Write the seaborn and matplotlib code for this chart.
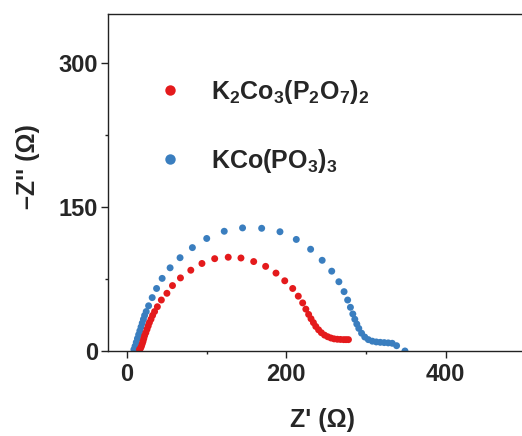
import matplotlib
matplotlib.use("Agg")
import matplotlib.pyplot as plt
import seaborn as sns
import pandas as pd
from matplotlib.ticker import MultipleLocator

# --- data ---
red_label = r"K$_2$Co$_3$(P$_2$O$_7$)$_2$"
blue_label = r"KCo(PO$_3$)$_3$"

red_x = [15.5, 17, 18, 19, 20, 21, 22, 23.5, 25, 26.5, 28, 30, 32, 34.5, 38, 43, 50, 57, 67, 80,
         94, 110, 127, 143, 159, 174, 187, 198, 208, 215, 220.5, 224.5, 228, 231, 234, 237, 240.5,
         244, 248, 252, 256, 260, 264, 268, 272, 275, 278]
red_y = [1.5, 3, 5, 7.5, 10, 13, 16, 19, 22.5, 26, 29.5, 33, 37, 41, 46, 53, 60, 68, 76, 84,
         91, 96, 97.5, 96.7, 93, 88, 81, 73, 65, 57, 50, 43.5, 38, 33.5, 29.5, 25.5, 22,
         19, 16.5, 14.8, 13.5, 12.6, 12.2, 12, 11.8, 11.8, 11.8]

blue_x = [8.5, 10, 11.5, 13, 14.5, 16, 17.5, 19, 20.5, 22, 24, 27, 31.5, 37, 44, 54, 66.5, 82, 100,
          122, 145, 169, 192, 212.5, 230.5, 245, 257, 266, 272.5, 277, 280.5, 283.5, 286, 288.5,
          291, 294.5, 298.5, 303, 308, 313, 318, 323, 328, 333, 338.5, 349]
blue_y = [1.5, 5, 9, 13, 17, 21, 25, 29, 33, 37, 41, 47, 55.5, 65, 75.5, 86.5, 97, 107.5, 117,
          124.5, 128, 127.6, 124, 116, 105.8, 94.3, 83, 72, 61.7, 53, 45.4, 38.5, 33, 28,
          23.5, 18.5, 14.5, 11.8, 10.2, 9.4, 9, 8.7, 8.4, 8, 5.5, 0]

x_ticks = [0, 200, 400]
y_ticks = [0, 150, 300]

df = pd.concat([
    pd.DataFrame({"x": blue_x, "y": blue_y, "sample": blue_label}),
    pd.DataFrame({"x": red_x, "y": red_y, "sample": red_label}),
], ignore_index=True)

sns.set_theme(style="ticks")
plt.rcParams["font.family"] = ["Liberation Sans", "DejaVu Sans"]
plt.rcParams["font.weight"] = "bold"
plt.rcParams["mathtext.fontset"] = "custom"
plt.rcParams["mathtext.rm"] = "Liberation Sans:bold"
plt.rcParams["mathtext.bf"] = "Liberation Sans:bold"
plt.rcParams["mathtext.default"] = "rm"

fig = plt.figure(figsize=(5.22, 4.36), dpi=100)
ax = fig.add_axes([0.2069, 0.195, 0.7931, 0.773])

palette = {red_label: "#E41A1C", blue_label: "#3A7EBF"}
sns.scatterplot(data=df, x="x", y="y", hue="sample", hue_order=[red_label, blue_label],
                palette=palette, s=25, linewidth=0, ax=ax, legend=True)

ax.set_xlim(-24, 496)
ax.set_ylim(0, 350.5)
ax.set_xticks(x_ticks)
ax.set_yticks(y_ticks)
ax.xaxis.set_minor_locator(MultipleLocator(100))
ax.yaxis.set_minor_locator(MultipleLocator(75))
ax.tick_params(axis="both", which="major", length=5, width=1, labelsize=17, color="#222222")
ax.tick_params(axis="y", which="major", pad=2)
ax.tick_params(axis="x", which="major", pad=4)
ax.tick_params(axis="both", which="minor", length=2.5, width=1, color="#222222")
for lab in ax.get_xticklabels() + ax.get_yticklabels():
    lab.set_fontweight("bold")

ax.spines["right"].set_visible(False)
for sp in ["left", "top", "bottom"]:
    ax.spines[sp].set_linewidth(1.0)
    ax.spines[sp].set_color("#222222")

ax.set_xlabel("Z' (\u03a9)", fontsize=18, fontweight="bold")
ax.set_ylabel("\u2013Z'' (\u03a9)", fontsize=18, fontweight="bold")
ax.xaxis.set_label_coords(0.519, -0.17)
ax.yaxis.set_label_coords(-0.164, 0.546)

handles, labels = ax.get_legend_handles_labels()
ax.legend(handles, labels, frameon=False, loc="upper left",
          bbox_to_anchor=(0.12, 0.811), markerscale=1.5, handlelength=1.0,
          handletextpad=1.15, labelspacing=1.66, borderpad=0, borderaxespad=0,
          prop={"size": 18, "weight": "bold"})

fig.savefig("out.png", dpi=100)
